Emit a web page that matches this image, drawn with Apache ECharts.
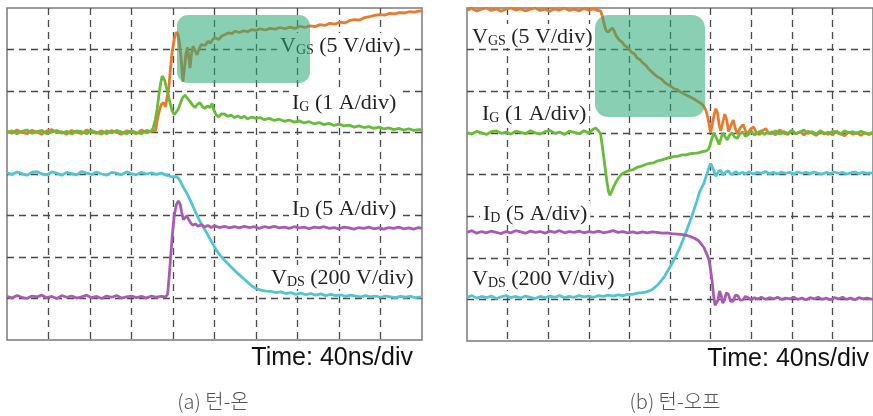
<!DOCTYPE html>
<html><head><meta charset="utf-8">
<script src="https://cdn.jsdelivr.net/npm/echarts@6/dist/echarts.min.js"></script>
<style>html,body{margin:0;padding:0;background:#fff}#c{width:873px;height:416px}</style>
</head><body><div id="c"></div>
<script>
// Units: x = time divisions (40 ns/div), y = screen divisions (0 = bottom)
const vgsOn = [[0,5.03],[0.12,4.98],[0.24,5.06],[0.36,5.00],[0.48,4.97],[0.60,5.05],[0.72,5.01],[0.84,4.96],[0.96,5.04],[1.08,5.07],[1.20,4.99],[1.32,5.02],[1.44,4.96],[1.56,5.05],[1.68,5.00],[1.80,4.97],[1.92,5.06],[2.04,5.01],[2.16,4.98],[2.28,5.04],[2.40,4.97],[2.52,5.05],[2.64,5.00],[2.76,4.96],[2.88,5.04],[3.00,5.01],[3.12,4.97],[3.24,5.06],[3.36,4.99],[3.48,5.03],[3.58,5.05],
[3.62,5.30],[3.67,5.52],[3.72,5.68],[3.77,5.72],[3.82,5.62],[3.86,5.60],[3.90,6.10],[3.94,6.55],[3.98,6.95],[4.03,7.25],[4.08,7.42],[4.12,7.36],[4.15,7.20],[4.19,6.85],[4.22,6.45],[4.24,6.22],[4.27,6.50],[4.31,6.88],[4.35,7.05],[4.38,6.80],[4.41,6.55],[4.44,6.85],[4.48,7.08],[4.53,6.98],[4.58,6.87],[4.63,7.02],[4.68,7.12],[4.72,7.16],[4.78,7.10],[4.84,7.20],[4.90,7.15],[4.96,7.25],[5.03,7.28],[5.10,7.24],[5.18,7.33],[5.26,7.36],[5.33,7.40],[5.42,7.38],[5.50,7.44],[5.60,7.41],[5.70,7.45],[5.80,7.43],[5.90,7.48],[6.00,7.46],[6.10,7.50],[6.22,7.47],[6.34,7.51],[6.46,7.49],[6.58,7.53],[6.70,7.50],[6.82,7.54],[6.94,7.51],[7.06,7.56],[7.18,7.53],[7.30,7.57],[7.42,7.55],[7.54,7.60],[7.66,7.58],[7.78,7.63],[7.90,7.61],[8.02,7.66],[8.14,7.64],[8.26,7.70],[8.38,7.72],[8.50,7.71],[8.62,7.77],[8.74,7.79],[8.86,7.82],[8.98,7.84],[9.10,7.83],[9.22,7.87],[9.34,7.86],[9.46,7.89],[9.58,7.88],[9.70,7.91],[9.82,7.90],[9.94,7.93],[10,7.92]];
const igOn = [[0,5.00],[0.12,5.04],[0.24,4.97],[0.36,5.03],[0.48,5.06],[0.60,4.98],[0.72,5.02],[0.84,5.05],[0.96,4.97],[1.08,5.01],[1.20,5.05],[1.32,4.98],[1.44,5.03],[1.56,4.96],[1.68,5.04],[1.80,5.02],[1.92,4.97],[2.04,5.05],[2.16,5.00],[2.28,4.96],[2.40,5.04],[2.52,4.99],[2.64,5.05],[2.76,5.01],[2.88,4.97],[3.00,5.04],[3.12,5.00],[3.24,4.97],[3.36,5.05],[3.46,5.02],
[3.52,5.10],[3.57,5.30],[3.62,5.58],[3.66,5.90],[3.70,6.18],[3.74,6.36],[3.77,6.39],[3.80,6.25],[3.84,6.08],[3.88,5.95],[3.93,5.70],[3.98,5.52],[4.03,5.43],[4.07,5.40],[4.12,5.55],[4.17,5.68],[4.23,5.84],[4.29,5.90],[4.35,5.82],[4.41,5.75],[4.47,5.66],[4.53,5.60],[4.59,5.68],[4.65,5.72],[4.71,5.62],[4.77,5.58],[4.83,5.64],[4.89,5.60],[4.94,5.70],[4.98,5.55],[5.04,5.42],[5.10,5.38],[5.17,5.45],[5.25,5.44],[5.32,5.39],[5.40,5.42],[5.48,5.36],[5.56,5.40],[5.64,5.35],[5.72,5.39],[5.80,5.33],[5.90,5.37],[6.00,5.34],[6.10,5.36],[6.20,5.31],[6.32,5.34],[6.44,5.29],[6.56,5.32],[6.68,5.27],[6.80,5.30],[6.92,5.25],[7.04,5.28],[7.16,5.23],[7.28,5.26],[7.40,5.21],[7.52,5.24],[7.64,5.19],[7.76,5.22],[7.88,5.17],[8.00,5.20],[8.12,5.16],[8.24,5.18],[8.36,5.13],[8.48,5.16],[8.60,5.12],[8.72,5.14],[8.84,5.10],[8.96,5.13],[9.08,5.09],[9.20,5.11],[9.32,5.07],[9.44,5.10],[9.56,5.06],[9.68,5.09],[9.80,5.05],[9.92,5.07],[10,5.06]];
const vdsOn = [[0,4.03],[0.12,3.99],[0.24,4.05],[0.36,4.01],[0.48,3.97],[0.60,4.04],[0.72,4.06],[0.84,4.00],[0.96,3.98],[1.08,4.05],[1.20,4.02],[1.32,3.97],[1.44,4.04],[1.56,4.01],[1.68,3.98],[1.80,4.06],[1.92,4.02],[2.04,3.99],[2.16,4.05],[2.28,4.00],[2.40,3.97],[2.52,4.04],[2.64,4.02],[2.76,3.98],[2.88,4.05],[3.00,4.01],[3.12,3.98],[3.24,4.04],[3.36,4.00],[3.48,4.03],[3.60,3.99],[3.72,4.02],[3.82,3.98],[3.92,3.95],[4.00,3.93],[4.07,3.94],[4.13,3.90],[4.19,3.80],[4.26,3.66],[4.34,3.52],[4.42,3.36],[4.50,3.18],[4.58,3.00],[4.66,2.84],[4.74,2.70],[4.82,2.57],[4.90,2.42],[4.98,2.28],[5.06,2.14],[5.14,2.04],[5.22,1.94],[5.30,1.86],[5.40,1.76],[5.50,1.66],[5.60,1.57],[5.70,1.48],[5.80,1.39],[5.90,1.30],[6.00,1.24],[6.12,1.20],[6.24,1.18],[6.36,1.17],[6.48,1.14],[6.60,1.16],[6.72,1.12],[6.84,1.14],[6.96,1.10],[7.08,1.13],[7.20,1.09],[7.32,1.12],[7.44,1.08],[7.56,1.11],[7.68,1.07],[7.80,1.10],[7.92,1.07],[8.04,1.09],[8.16,1.05],[8.28,1.08],[8.40,1.06],[8.52,1.04],[8.64,1.07],[8.76,1.04],[8.88,1.06],[9.00,1.03],[9.12,1.06],[9.24,1.04],[9.36,1.02],[9.48,1.05],[9.60,1.03],[9.72,1.05],[9.84,1.02],[10,1.04]];
const idOn = [[0,1.05],[0.12,1.01],[0.24,1.07],[0.36,1.03],[0.48,1.00],[0.60,1.06],[0.72,1.04],[0.84,1.08],[0.96,1.02],[1.08,1.05],[1.20,1.00],[1.32,1.07],[1.44,1.03],[1.56,1.06],[1.68,1.01],[1.80,1.04],[1.92,1.08],[2.04,1.02],[2.16,1.05],[2.28,1.00],[2.40,1.06],[2.52,1.03],[2.64,1.07],[2.76,1.01],[2.88,1.04],[3.00,1.06],[3.12,1.02],[3.24,1.05],[3.36,1.01],[3.48,1.06],[3.60,1.03],[3.72,1.05],[3.82,1.04],[3.87,1.10],[3.91,1.55],[3.95,2.10],[3.99,2.60],[4.03,3.00],[4.08,3.26],[4.13,3.35],[4.17,3.28],[4.21,3.08],[4.25,2.90],[4.29,2.94],[4.33,2.99],[4.37,2.92],[4.42,2.83],[4.48,2.76],[4.54,2.80],[4.60,2.74],[4.68,2.78],[4.76,2.72],[4.84,2.76],[4.92,2.71],[5.00,2.75],[5.12,2.71],[5.24,2.74],[5.36,2.70],[5.48,2.73],[5.60,2.70],[5.72,2.74],[5.84,2.71],[5.96,2.73],[6.08,2.69],[6.20,2.73],[6.32,2.71],[6.44,2.74],[6.56,2.70],[6.68,2.72],[6.80,2.69],[6.92,2.73],[7.04,2.70],[7.16,2.72],[7.28,2.68],[7.40,2.72],[7.52,2.70],[7.64,2.73],[7.76,2.69],[7.88,2.71],[8.00,2.68],[8.12,2.72],[8.24,2.70],[8.36,2.67],[8.48,2.71],[8.60,2.69],[8.72,2.72],[8.84,2.68],[8.96,2.70],[9.08,2.67],[9.20,2.71],[9.32,2.69],[9.44,2.72],[9.56,2.68],[9.68,2.70],[9.80,2.67],[9.92,2.71],[10,2.69]];

const vgsOff = [[0,7.95],[0.12,7.99],[0.24,7.93],[0.36,7.97],[0.48,8.00],[0.60,7.94],[0.72,7.98],[0.84,7.92],[0.96,7.97],[1.08,8.00],[1.20,7.95],[1.32,7.98],[1.44,7.93],[1.56,7.97],[1.68,8.00],[1.80,7.94],[1.92,7.97],[2.04,7.92],[2.16,7.98],[2.28,7.95],[2.40,8.00],[2.52,7.94],[2.64,7.97],[2.76,7.93],[2.88,7.99],[3.00,7.95],[3.12,7.98],[3.22,7.94],[3.29,7.93],[3.34,7.78],[3.39,7.56],[3.43,7.45],[3.48,7.42],[3.53,7.48],[3.58,7.52],[3.62,7.46],[3.66,7.36],[3.71,7.28],[3.76,7.22],[3.82,7.18],[3.88,7.10],[3.94,7.06],[4.00,7.00],[4.06,6.93],[4.12,6.90],[4.19,6.80],[4.26,6.76],[4.33,6.68],[4.40,6.63],[4.47,6.54],[4.55,6.47],[4.62,6.40],[4.70,6.34],[4.78,6.30],[4.86,6.22],[4.94,6.16],[5.02,6.12],[5.10,6.06],[5.18,6.04],[5.26,5.98],[5.34,5.94],[5.42,5.90],[5.50,5.86],[5.58,5.82],[5.66,5.77],[5.74,5.72],[5.82,5.66],[5.88,5.55],[5.93,5.38],[5.97,5.18],[6.00,5.00],[6.04,5.20],[6.09,5.45],[6.13,5.58],[6.17,5.48],[6.21,5.20],[6.25,5.05],[6.30,5.25],[6.35,5.45],[6.40,5.30],[6.44,5.03],[6.50,5.18],[6.56,5.31],[6.61,5.10],[6.66,4.98],[6.73,5.12],[6.80,5.20],[6.86,5.05],[6.92,4.98],[6.99,5.10],[7.06,5.14],[7.13,5.00],[7.20,4.96],[7.28,5.06],[7.36,5.10],[7.44,4.98],[7.52,5.03],[7.60,4.95],[7.70,5.07],[7.80,5.00],[7.90,4.96],[8.00,5.05],[8.10,4.98],[8.20,5.03],[8.30,4.95],[8.40,5.04],[8.50,4.99],[8.60,4.94],[8.70,5.03],[8.80,4.97],[8.90,5.02],[9.00,4.95],[9.10,5.04],[9.20,4.98],[9.30,4.93],[9.40,5.02],[9.50,4.97],[9.60,5.01],[9.70,4.94],[9.80,5.00],[9.90,4.96],[10,5.00]];
const igOff = [[0,5.01],[0.12,4.97],[0.24,5.04],[0.36,5.00],[0.48,4.96],[0.60,5.03],[0.72,5.05],[0.84,4.99],[0.96,5.02],[1.08,4.97],[1.20,5.04],[1.32,5.01],[1.44,4.98],[1.56,5.05],[1.68,5.00],[1.80,4.97],[1.92,5.03],[2.04,5.06],[2.16,4.99],[2.28,5.02],[2.40,4.96],[2.52,5.04],[2.64,5.01],[2.76,4.98],[2.88,5.05],[3.00,5.00],[3.10,5.08],[3.17,5.12],[3.23,5.06],[3.29,4.98],[3.33,4.70],[3.37,4.40],[3.41,4.10],[3.45,3.80],[3.49,3.58],[3.52,3.50],[3.56,3.58],[3.61,3.70],[3.66,3.80],[3.72,3.90],[3.80,4.00],[3.90,4.06],[4.00,4.10],[4.10,4.12],[4.20,4.18],[4.30,4.20],[4.40,4.24],[4.50,4.27],[4.60,4.28],[4.70,4.33],[4.80,4.35],[4.90,4.38],[5.00,4.41],[5.10,4.43],[5.20,4.44],[5.30,4.47],[5.40,4.47],[5.50,4.50],[5.60,4.51],[5.70,4.52],[5.80,4.55],[5.90,4.57],[5.96,4.62],[6.00,4.76],[6.05,4.92],[6.09,5.00],[6.13,4.90],[6.17,4.82],[6.21,4.72],[6.26,4.88],[6.30,5.00],[6.35,4.92],[6.41,4.83],[6.47,4.95],[6.53,5.00],[6.59,4.90],[6.66,4.87],[6.72,4.98],[6.79,5.02],[6.86,4.92],[6.93,4.96],[7.00,5.04],[7.08,4.95],[7.16,5.00],[7.24,5.05],[7.32,4.96],[7.40,5.02],[7.50,4.98],[7.60,5.05],[7.70,4.97],[7.80,5.03],[7.90,4.99],[8.00,5.06],[8.10,4.98],[8.20,5.02],[8.30,5.07],[8.40,4.99],[8.50,5.03],[8.60,4.97],[8.70,5.05],[8.80,5.00],[8.90,4.96],[9.00,5.04],[9.10,5.01],[9.20,4.97],[9.30,5.05],[9.40,5.00],[9.50,5.03],[9.60,4.98],[9.70,5.04],[9.80,5.00],[9.90,4.97],[10,5.02]];
const vdsOff = [[0,1.05],[0.12,1.09],[0.24,1.03],[0.36,1.07],[0.48,1.04],[0.60,1.08],[0.72,1.02],[0.84,1.06],[0.96,1.09],[1.08,1.04],[1.20,1.07],[1.32,1.03],[1.44,1.08],[1.56,1.05],[1.68,1.02],[1.80,1.07],[1.92,1.04],[2.04,1.08],[2.16,1.05],[2.28,1.09],[2.40,1.04],[2.52,1.07],[2.64,1.05],[2.76,1.09],[2.88,1.06],[3.00,1.08],[3.12,1.05],[3.24,1.09],[3.36,1.07],[3.48,1.10],[3.60,1.08],[3.72,1.11],[3.84,1.09],[3.96,1.12],[4.08,1.12],[4.20,1.15],[4.32,1.16],[4.43,1.18],[4.55,1.23],[4.65,1.31],[4.72,1.37],[4.80,1.47],[4.87,1.56],[4.96,1.71],[5.06,1.88],[5.16,2.07],[5.26,2.28],[5.35,2.50],[5.45,2.76],[5.52,2.95],[5.59,3.15],[5.66,3.36],[5.73,3.58],[5.80,3.72],[5.84,3.80],[5.89,3.96],[5.93,4.08],[5.97,4.20],[6.00,4.26],[6.04,4.22],[6.08,4.10],[6.12,3.96],[6.16,3.95],[6.20,4.08],[6.25,4.10],[6.30,3.99],[6.34,3.97],[6.39,4.07],[6.44,4.09],[6.50,4.00],[6.56,4.02],[6.62,4.07],[6.70,4.01],[6.78,4.05],[6.86,4.02],[6.95,4.06],[7.05,4.01],[7.15,4.05],[7.25,4.03],[7.35,4.07],[7.45,4.02],[7.55,4.05],[7.65,4.01],[7.75,4.06],[7.85,4.03],[7.95,4.05],[8.05,4.01],[8.15,4.06],[8.25,4.03],[8.35,4.05],[8.45,4.02],[8.55,4.06],[8.65,4.03],[8.75,4.01],[8.85,4.05],[8.95,4.02],[9.05,4.06],[9.15,4.03],[9.25,4.05],[9.35,4.01],[9.45,4.04],[9.55,4.06],[9.65,4.02],[9.75,4.05],[9.85,4.03],[10,4.04]];
const idOff = [[0,2.61],[0.12,2.65],[0.24,2.59],[0.36,2.63],[0.48,2.60],[0.60,2.64],[0.72,2.61],[0.84,2.58],[0.96,2.63],[1.08,2.60],[1.20,2.65],[1.32,2.62],[1.44,2.59],[1.56,2.64],[1.68,2.61],[1.80,2.63],[1.92,2.59],[2.04,2.64],[2.16,2.61],[2.28,2.65],[2.40,2.60],[2.52,2.63],[2.64,2.61],[2.76,2.64],[2.88,2.60],[3.00,2.63],[3.12,2.61],[3.24,2.64],[3.36,2.60],[3.48,2.62],[3.60,2.65],[3.72,2.61],[3.84,2.63],[3.96,2.60],[4.08,2.62],[4.20,2.59],[4.32,2.62],[4.44,2.60],[4.56,2.62],[4.68,2.61],[4.80,2.59],[4.92,2.60],[5.04,2.58],[5.16,2.57],[5.28,2.56],[5.40,2.54],[5.50,2.51],[5.60,2.47],[5.69,2.42],[5.77,2.33],[5.84,2.24],[5.90,2.10],[5.96,1.95],[6.00,1.71],[6.04,1.42],[6.07,1.12],[6.11,0.86],[6.14,0.82],[6.18,0.98],[6.22,1.20],[6.26,1.10],[6.30,0.91],[6.34,0.98],[6.39,1.16],[6.44,1.12],[6.49,0.96],[6.55,0.95],[6.61,1.10],[6.67,1.09],[6.73,0.98],[6.79,0.99],[6.86,1.07],[6.93,1.04],[7.00,0.99],[7.08,1.04],[7.16,1.01],[7.25,1.05],[7.35,1.00],[7.45,1.04],[7.55,1.01],[7.65,1.05],[7.75,1.00],[7.85,1.03],[7.95,1.01],[8.05,1.05],[8.15,1.00],[8.25,1.03],[8.35,0.99],[8.45,1.04],[8.55,1.01],[8.65,1.05],[8.75,1.00],[8.85,1.03],[8.95,0.99],[9.05,1.04],[9.15,1.01],[9.25,1.05],[9.35,1.00],[9.45,1.03],[9.55,0.99],[9.65,1.04],[9.75,1.01],[9.85,1.03],[10,1.00]];

const timeLabel = 'Time: 40ns/div';
const captions = ['(a) 턴-온', '(b) 턴-오프'];
const traceLabels = [
  ['V','GS',' (5 V/div)'],
  ['I','G',' (1 A/div)'],
  ['I','D',' (5 A/div)'],
  ['V','DS',' (200 V/div)']
];

const C = {vgs:'#e67a2e', ig:'#68bc3a', vds:'#52c4d2', id:'#a95ab5'};
const chart = echarts.init(document.getElementById('c'), null, {renderer:'canvas'});

function xAx(gi){return {gridIndex:gi,type:'value',min:0,max:10,interval:1,axisLine:{show:false},axisTick:{show:false},axisLabel:{show:false},
  splitLine:{show:true,showMinLine:false,showMaxLine:false,lineStyle:{color:'#4a4a4a',width:1.3,type:[7,5]}}};}
function yAx(gi){return {gridIndex:gi,type:'value',min:0,max:8,interval:1,axisLine:{show:false},axisTick:{show:false},axisLabel:{show:false},
  splitLine:{show:true,showMinLine:false,showMaxLine:false,lineStyle:{color:'#4a4a4a',width:1.3,type:[7,5]}}};}
function ser(data,color,gi){return {type:'line',xAxisIndex:gi,yAxisIndex:gi,data:data,symbol:'none',showSymbol:false,silent:true,
  lineStyle:{color:color,width:2.8},itemStyle:{color:color},z:3};}

const rich = {
  m:{fontSize:22,fontFamily:'Liberation Serif',fill:'#222',lineHeight:24,verticalAlign:'bottom'},
  s:{fontSize:14,fontFamily:'Liberation Serif',fill:'#222',lineHeight:14,verticalAlign:'bottom'}
};
function lab(x,y,t){return {type:'text',x:x,y:y,z:20,style:{text:'{m|'+t[0]+'}{s|'+t[1]+'}{m|'+t[2]+'}',rich:rich,align:'left',verticalAlign:'middle',backgroundColor:'#fff',padding:[0,3,0,3]}};}

const labelPos = [
  [[277,45],[289,102],[289,208],[268,277]],
  [[469,36],[479,113],[480,213],[469,278]]
];
const graphics = [];
for (let p=0;p<2;p++) for (let i=0;i<4;i++) graphics.push(lab(labelPos[p][i][0],labelPos[p][i][1],traceLabels[i]));
graphics.push({type:'rect',z:30,shape:{x:177,y:15,width:133,height:68,r:11},style:{fill:'rgba(40,168,118,0.55)'}});
graphics.push({type:'rect',z:30,shape:{x:595,y:15,width:110,height:102,r:13},style:{fill:'rgba(40,168,118,0.55)'}});
graphics.push({type:'text',z:20,x:413,y:358,style:{text:timeLabel,fontSize:25,fontFamily:'Liberation Sans',fill:'#111',align:'right',verticalAlign:'middle'}});
graphics.push({type:'text',z:20,x:869,y:359,style:{text:timeLabel,fontSize:25,fontFamily:'Liberation Sans',fill:'#111',align:'right',verticalAlign:'middle'}});
graphics.push({type:'text',z:20,x:213,y:401,style:{text:captions[0],fontSize:20,fontFamily:'Noto Sans CJK KR',fontWeight:300,fill:'#555',align:'center',verticalAlign:'middle'}});
graphics.push({type:'text',z:20,x:675,y:401,style:{text:captions[1],fontSize:20,fontFamily:'Noto Sans CJK KR',fontWeight:300,fill:'#555',align:'center',verticalAlign:'middle'}});

chart.setOption({
  animation:false,
  backgroundColor:'#fff',
  grid:[
    {left:7,top:8,width:415,height:332,show:true,borderColor:'#7a7a7a',borderWidth:1.5,backgroundColor:'transparent'},
    {left:467,top:8,width:413,height:333,show:true,borderColor:'#7a7a7a',borderWidth:1.5,backgroundColor:'transparent'}
  ],
  xAxis:[xAx(0),xAx(1)],
  yAxis:[yAx(0),yAx(1)],
  series:[
    ser(vgsOn,C.vgs,0),ser(igOn,C.ig,0),ser(vdsOn,C.vds,0),ser(idOn,C.id,0),
    ser(vgsOff,C.vgs,1),ser(igOff,C.ig,1),ser(vdsOff,C.vds,1),ser(idOff,C.id,1)
  ],
  graphic:graphics
});
</script></body></html>
